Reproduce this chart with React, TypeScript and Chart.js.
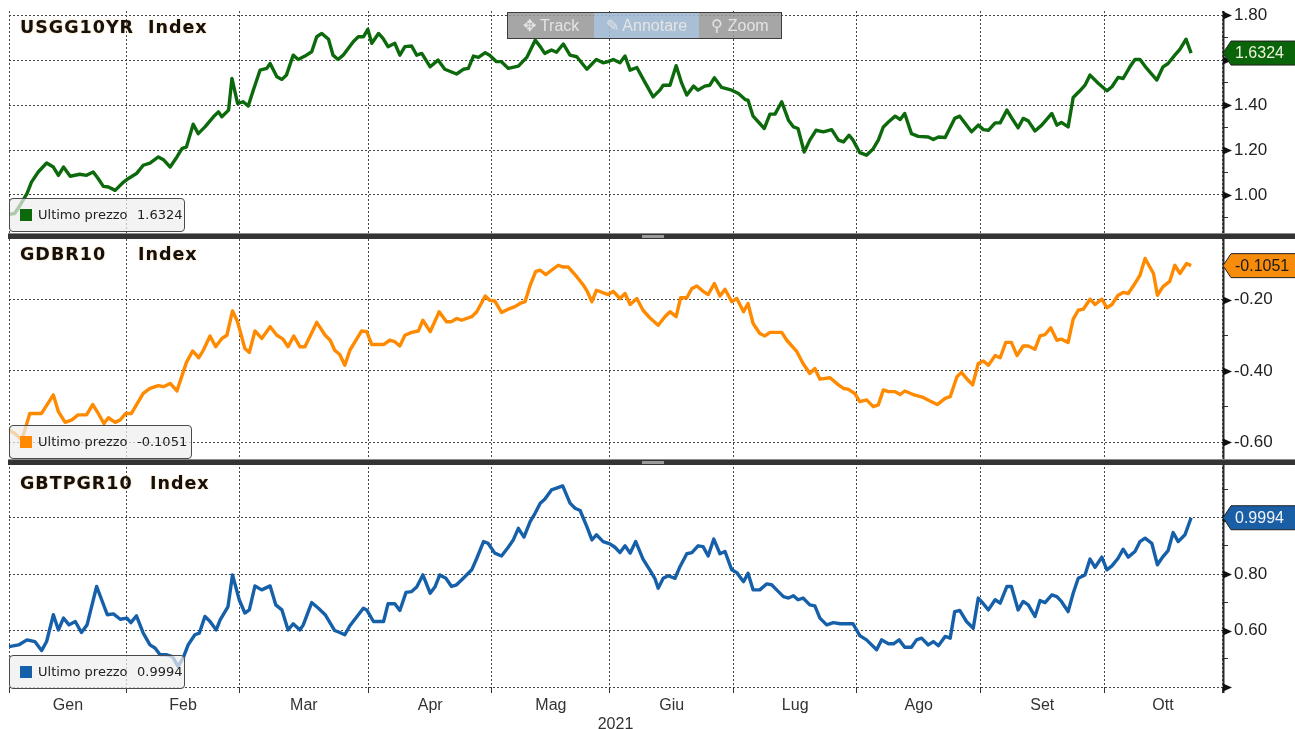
import React, { useEffect, useRef } from "react";
import { Chart, registerables } from "chart.js";

Chart.register(...registerables);

// ---- axis categories (weekday index counted from 1 Jan 2021) ----
const monthStarts = [0, 21, 41, 64, 86, 107, 129, 151, 173, 195, 216];
const monthLabels = ["Gen", "Feb", "Mar", "Apr", "Mag", "Giu", "Lug", "Ago", "Set", "Ott"];
const yearLabel = "2021";

// ---- USGG10YR Index ----
const usDay = [0, 1, 2, 3.2, 4.0, 5.2, 6.7, 7.9, 8.8, 9.7, 10.9, 12.6, 13.8, 15.0, 15.9, 16.8, 17.7, 18.9, 20.4, 21.2, 22.7, 23.9, 25.1, 26.6, 27.5, 28.7, 29.9, 30.8, 31.6, 32.8, 33.7, 34.9, 36.4, 37.3, 37.9, 39.1, 39.7, 40.7, 41.7, 42.6, 43.5, 44.7, 45.9, 46.5, 47.7, 48.6, 49.4, 50.6, 51.5, 52.7, 53.9, 54.8, 55.7, 56.9, 57.7, 58.6, 59.5, 61.3, 62.2, 63.1, 63.9, 64.6, 65.8, 66.6, 67.5, 68.7, 69.6, 70.5, 71.7, 72.6, 73.5, 75.0, 76.4, 77.6, 79.7, 80.9, 81.8, 82.7, 83.6, 84.8, 85.6, 86.8, 87.7, 88.9, 90.7, 92.2, 93.7, 94.6, 95.4, 96.6, 97.5, 98.7, 99.9, 101.1, 102.9, 104.6, 105.8, 106.7, 107.6, 108.8, 109.7, 110.6, 111.8, 113.2, 114.7, 115.9, 116.5, 117.7, 118.8, 119.8, 120.7, 121.9, 122.7, 123.9, 124.8, 125.6, 126.9, 128.7, 129.9, 131.1, 131.6, 132.5, 134.5, 135.5, 136.4, 137.6, 138.8, 139.7, 140.5, 141.6, 142.6, 143.7, 145.0, 146.5, 147.7, 148.6, 149.6, 150.3, 151.5, 152.7, 153.9, 154.8, 155.7, 156.6, 157.8, 158.7, 159.5, 160.7, 161.9, 163.7, 164.6, 165.5, 166.7, 168.4, 169.3, 171.4, 172.6, 173.5, 174.4, 175.6, 176.5, 177.7, 178.5, 179.7, 180.6, 181.5, 182.7, 183.9, 185.7, 186.6, 187.4, 188.6, 189.5, 190.7, 191.6, 192.5, 194.0, 195.5, 196.4, 197.5, 198.4, 199.6, 200.5, 201.4, 202.6, 204.4, 205.5, 206.4, 207.6, 208.5, 209.6, 210.5];
const usYield = [0.913, 0.917, 0.955, 1.005, 1.057, 1.102, 1.142, 1.124, 1.087, 1.124, 1.083, 1.092, 1.087, 1.102, 1.072, 1.038, 1.035, 1.020, 1.057, 1.072, 1.095, 1.132, 1.142, 1.169, 1.157, 1.124, 1.169, 1.206, 1.214, 1.315, 1.273, 1.303, 1.348, 1.370, 1.348, 1.378, 1.519, 1.408, 1.415, 1.396, 1.467, 1.556, 1.564, 1.586, 1.527, 1.515, 1.534, 1.623, 1.604, 1.619, 1.638, 1.705, 1.720, 1.694, 1.623, 1.604, 1.623, 1.683, 1.705, 1.705, 1.738, 1.676, 1.720, 1.698, 1.661, 1.676, 1.623, 1.661, 1.664, 1.623, 1.631, 1.571, 1.601, 1.560, 1.539, 1.560, 1.564, 1.619, 1.613, 1.634, 1.623, 1.594, 1.594, 1.564, 1.574, 1.613, 1.690, 1.661, 1.631, 1.646, 1.636, 1.673, 1.623, 1.616, 1.560, 1.604, 1.589, 1.594, 1.604, 1.589, 1.619, 1.556, 1.568, 1.504, 1.437, 1.467, 1.489, 1.489, 1.576, 1.497, 1.445, 1.485, 1.467, 1.485, 1.489, 1.522, 1.479, 1.467, 1.452, 1.425, 1.422, 1.351, 1.296, 1.360, 1.360, 1.415, 1.333, 1.303, 1.296, 1.191, 1.244, 1.288, 1.281, 1.291, 1.244, 1.236, 1.266, 1.244, 1.188, 1.177, 1.206, 1.244, 1.303, 1.325, 1.351, 1.336, 1.363, 1.273, 1.261, 1.258, 1.247, 1.258, 1.256, 1.341, 1.351, 1.281, 1.311, 1.291, 1.288, 1.321, 1.321, 1.378, 1.345, 1.299, 1.341, 1.330, 1.285, 1.311, 1.363, 1.311, 1.323, 1.303, 1.434, 1.464, 1.489, 1.534, 1.497, 1.464, 1.482, 1.524, 1.519, 1.571, 1.604, 1.604, 1.564, 1.512, 1.571, 1.586, 1.623, 1.649, 1.694, 1.6324];

// ---- GDBR10 Index ----
const deDay = [0, 1.0, 2.3, 3.7, 5.8, 7.9, 8.8, 10.0, 11.2, 12.3, 13.8, 14.9, 15.9, 16.9, 17.7, 18.9, 19.8, 20.8, 21.8, 23.9, 25.1, 26.6, 27.5, 28.7, 29.9, 31.6, 32.7, 33.8, 34.6, 35.8, 36.8, 37.9, 38.8, 39.8, 40.7, 42.0, 42.8, 43.8, 45.0, 46.5, 47.7, 48.8, 49.7, 50.7, 51.8, 52.7, 54.8, 56.3, 57.2, 58.0, 58.9, 59.8, 60.7, 61.9, 62.8, 63.7, 64.6, 66.7, 67.8, 68.7, 69.6, 70.5, 71.7, 72.9, 73.7, 75.0, 76.6, 77.9, 78.8, 79.7, 80.6, 82.4, 83.3, 84.8, 85.6, 86.5, 87.7, 88.9, 90.1, 91.0, 91.9, 92.8, 93.8, 94.6, 95.6, 96.6, 97.8, 98.7, 99.6, 101.1, 102.3, 103.0, 103.8, 104.6, 106.7, 107.6, 108.8, 109.7, 110.6, 111.8, 112.9, 114.1, 115.6, 116.8, 117.7, 118.8, 119.6, 120.7, 121.6, 122.5, 123.6, 124.5, 125.6, 126.6, 127.5, 128.7, 129.6, 130.8, 131.6, 132.5, 133.7, 134.6, 135.5, 137.6, 138.5, 140.3, 141.4, 142.6, 143.5, 144.4, 146.2, 147.7, 148.6, 149.4, 150.6, 151.5, 152.7, 153.9, 154.8, 155.7, 156.6, 157.8, 158.7, 159.5, 161.0, 162.8, 164.0, 165.3, 166.7, 167.6, 168.8, 169.6, 170.5, 171.6, 172.6, 173.5, 174.4, 175.6, 176.5, 177.5, 178.5, 179.5, 180.6, 181.5, 182.7, 183.6, 184.5, 185.5, 186.6, 187.4, 188.6, 189.5, 190.4, 191.3, 192.5, 193.4, 194.6, 195.5, 196.4, 197.5, 198.4, 199.3, 200.5, 201.4, 202.3, 203.8, 204.5, 205.5, 206.7, 207.6, 208.5, 209.7, 210.5];
const deYield = [-0.565, -0.575, -0.593, -0.519, -0.519, -0.467, -0.514, -0.544, -0.537, -0.523, -0.523, -0.494, -0.519, -0.547, -0.531, -0.544, -0.537, -0.519, -0.519, -0.463, -0.449, -0.441, -0.444, -0.435, -0.456, -0.376, -0.344, -0.363, -0.342, -0.302, -0.332, -0.309, -0.300, -0.232, -0.262, -0.337, -0.348, -0.288, -0.309, -0.276, -0.300, -0.311, -0.332, -0.302, -0.332, -0.332, -0.264, -0.300, -0.314, -0.342, -0.354, -0.384, -0.342, -0.311, -0.288, -0.290, -0.326, -0.326, -0.314, -0.318, -0.330, -0.300, -0.292, -0.288, -0.258, -0.290, -0.234, -0.262, -0.262, -0.253, -0.258, -0.248, -0.234, -0.190, -0.202, -0.204, -0.236, -0.227, -0.220, -0.211, -0.206, -0.160, -0.121, -0.118, -0.130, -0.118, -0.104, -0.109, -0.109, -0.136, -0.160, -0.178, -0.206, -0.174, -0.186, -0.177, -0.197, -0.183, -0.214, -0.197, -0.230, -0.251, -0.272, -0.248, -0.234, -0.248, -0.195, -0.195, -0.169, -0.162, -0.177, -0.186, -0.155, -0.190, -0.171, -0.206, -0.197, -0.234, -0.211, -0.267, -0.295, -0.302, -0.292, -0.292, -0.314, -0.346, -0.379, -0.407, -0.393, -0.423, -0.419, -0.439, -0.449, -0.451, -0.463, -0.486, -0.481, -0.500, -0.495, -0.453, -0.458, -0.458, -0.466, -0.456, -0.466, -0.474, -0.484, -0.494, -0.477, -0.472, -0.416, -0.404, -0.421, -0.439, -0.379, -0.372, -0.384, -0.357, -0.363, -0.320, -0.320, -0.357, -0.330, -0.330, -0.339, -0.302, -0.298, -0.279, -0.314, -0.311, -0.320, -0.255, -0.230, -0.227, -0.199, -0.214, -0.199, -0.223, -0.214, -0.188, -0.180, -0.183, -0.155, -0.132, -0.085, -0.127, -0.188, -0.164, -0.149, -0.104, -0.127, -0.099, -0.1051];

// ---- GBTPGR10 Index ----
const itDay = [0, 1.7, 3.2, 4.6, 5.8, 6.7, 7.9, 8.8, 9.7, 10.7, 11.8, 12.9, 13.9, 15.6, 16.5, 17.5, 18.6, 19.8, 21.0, 21.7, 22.7, 23.9, 25.1, 26.0, 26.9, 28.1, 29.1, 30.1, 31.0, 31.9, 33.1, 33.9, 34.9, 35.8, 36.9, 37.6, 39.0, 39.8, 41.0, 42.0, 42.8, 43.8, 45.0, 46.5, 47.5, 48.6, 49.7, 50.6, 51.8, 52.4, 53.9, 55.1, 56.3, 58.0, 58.9, 59.8, 60.7, 63.1, 63.7, 64.9, 66.7, 67.5, 68.7, 69.6, 70.7, 71.7, 72.6, 73.7, 75.0, 75.9, 76.7, 77.8, 78.8, 79.7, 80.9, 82.4, 83.3, 84.5, 85.3, 86.5, 87.7, 88.9, 89.8, 90.7, 91.7, 92.8, 93.7, 94.6, 95.4, 96.6, 97.5, 98.6, 99.9, 100.8, 101.7, 102.9, 103.8, 104.6, 105.8, 107.0, 107.9, 108.8, 109.7, 110.6, 111.6, 112.9, 114.1, 115.0, 115.6, 116.5, 117.4, 118.6, 119.5, 120.7, 121.6, 122.7, 123.6, 124.5, 125.5, 126.6, 127.5, 128.7, 129.6, 130.8, 131.6, 132.5, 133.7, 134.9, 135.8, 136.7, 137.9, 138.8, 139.7, 140.5, 141.4, 142.6, 143.5, 144.4, 145.6, 146.8, 148.0, 149.2, 150.3, 151.5, 152.7, 154.5, 155.4, 156.6, 157.5, 158.5, 159.5, 160.7, 161.6, 162.5, 163.7, 164.6, 165.5, 166.7, 167.6, 168.4, 169.3, 170.5, 171.7, 172.6, 173.5, 174.4, 175.6, 176.5, 177.7, 178.5, 179.7, 180.6, 181.5, 182.7, 183.6, 184.5, 185.7, 186.6, 187.4, 188.6, 189.5, 190.4, 191.6, 192.5, 193.4, 194.6, 195.5, 196.4, 197.5, 198.4, 199.3, 200.5, 201.4, 202.3, 203.5, 204.5, 205.5, 206.4, 207.3, 208.2, 209.4, 210.5];
const itYield = [0.543, 0.549, 0.567, 0.561, 0.529, 0.561, 0.656, 0.602, 0.644, 0.620, 0.632, 0.593, 0.620, 0.756, 0.709, 0.656, 0.659, 0.640, 0.644, 0.628, 0.652, 0.591, 0.549, 0.538, 0.514, 0.514, 0.508, 0.473, 0.502, 0.549, 0.585, 0.591, 0.650, 0.632, 0.602, 0.638, 0.685, 0.797, 0.709, 0.662, 0.673, 0.758, 0.744, 0.758, 0.691, 0.673, 0.602, 0.624, 0.602, 0.620, 0.699, 0.679, 0.656, 0.600, 0.593, 0.585, 0.617, 0.679, 0.673, 0.632, 0.632, 0.695, 0.695, 0.671, 0.735, 0.738, 0.754, 0.797, 0.732, 0.756, 0.797, 0.785, 0.756, 0.762, 0.785, 0.815, 0.856, 0.915, 0.909, 0.874, 0.864, 0.895, 0.921, 0.962, 0.931, 0.986, 1.016, 1.051, 1.065, 1.098, 1.104, 1.112, 1.051, 1.033, 1.025, 0.968, 0.921, 0.939, 0.915, 0.907, 0.895, 0.876, 0.900, 0.874, 0.915, 0.853, 0.815, 0.785, 0.750, 0.785, 0.794, 0.785, 0.827, 0.872, 0.876, 0.900, 0.897, 0.864, 0.924, 0.872, 0.880, 0.815, 0.805, 0.773, 0.803, 0.744, 0.744, 0.765, 0.762, 0.744, 0.720, 0.715, 0.723, 0.709, 0.715, 0.691, 0.687, 0.644, 0.620, 0.628, 0.624, 0.624, 0.624, 0.582, 0.567, 0.532, 0.567, 0.553, 0.553, 0.567, 0.541, 0.541, 0.567, 0.573, 0.549, 0.561, 0.546, 0.579, 0.573, 0.667, 0.671, 0.632, 0.608, 0.715, 0.695, 0.673, 0.709, 0.697, 0.756, 0.756, 0.673, 0.703, 0.691, 0.650, 0.706, 0.699, 0.726, 0.720, 0.703, 0.667, 0.732, 0.785, 0.797, 0.853, 0.824, 0.860, 0.815, 0.829, 0.856, 0.888, 0.860, 0.880, 0.915, 0.927, 0.909, 0.833, 0.862, 0.883, 0.947, 0.915, 0.939, 0.9994];

// ---- per-panel axis ticks ----
const usMajor = [1.0, 1.2, 1.4, 1.6, 1.8];
const usMinor = [0.9, 1.1, 1.3, 1.5, 1.7];
const deMajor = [-0.6, -0.4, -0.2];
const deMinor = [-0.5, -0.3, -0.1];
const itMajor = [0.4, 0.6, 0.8, 1.0];
const itMinor = [0.5, 0.7, 0.9, 1.1];

const W = 1295;
const H = 729;
const CANVAS_H = 733;

const panels = [
  { axis: "y1", ticker: "USGG10YR", day: usDay, val: usYield, min: 0.815, max: 1.82, major: usMajor, minor: usMinor, hide: [] as number[], color: "#0c6a0c", tagFill: "#0a650a", tagText: "#eef2dc", titleTop: 16, indexX: 148, legendTop: 198, legendW: 176 },
  { axis: "y2", ticker: "GDBR10", day: deDay, val: deYield, min: -0.654, max: -0.023, major: deMajor, minor: deMinor, hide: [] as number[], color: "#ff8a00", tagFill: "#f78b0c", tagText: "#1a1a1a", titleTop: 243, indexX: 138, legendTop: 425, legendW: 183 },
  { axis: "y3", ticker: "GBTPGR10", day: itDay, val: itYield, min: 0.4, max: 1.198, major: itMajor, minor: itMinor, hide: [0.4], color: "#1660aa", tagFill: "#1a5ea6", tagText: "#f2f4f8", titleTop: 472, indexX: 150, legendTop: 655, legendW: 176 },
];

const close = (a: number, b: number) => Math.abs(a - b) < 1e-6;
const mids = monthStarts.slice(0, -1).map((s, i) => (s + monthStarts[i + 1]) / 2);

const decor = {
  id: "bbgDecor",
  afterDraw(chart: any) {
    const ctx = chart.ctx;
    const area = chart.chartArea;
    ctx.save();
    ctx.fillStyle = "#2a2a2a";
    ctx.fillRect(area.right + 0.5, area.top, 2, area.bottom - area.top + 6);
    panels.forEach((p) => {
      const s = chart.scales[p.axis];
      p.major.forEach((v) => {
        if (v < s.min - 1e-9 || v > s.max + 1e-9) return;
        const y = Math.round(s.getPixelForValue(v)) + 0.5;
        ctx.beginPath();
        ctx.moveTo(area.right + 1, y - 4);
        ctx.lineTo(area.right + 10, y);
        ctx.lineTo(area.right + 1, y + 4);
        ctx.closePath();
        ctx.fillStyle = "#111";
        ctx.fill();
      });
    });
    [chart.scales.y1.bottom, chart.scales.y2.bottom].forEach((b: number) => {
      const yb = Math.round(b) - 3;
      ctx.fillStyle = "#343434";
      ctx.fillRect(8, yb, W - 8, 6);
      ctx.fillStyle = "#8c8c8c";
      ctx.fillRect(8, yb, W - 8, 1);
      ctx.fillStyle = "#9a9a9a";
      ctx.fillRect(642, yb + 2, 22, 3);
    });
    panels.forEach((p) => {
      const s = chart.scales[p.axis];
      const last = p.val[p.val.length - 1];
      const y = s.getPixelForValue(last);
      const tip = area.right + 1;
      ctx.beginPath();
      ctx.moveTo(tip, y);
      ctx.lineTo(tip + 8, y - 12);
      ctx.lineTo(W + 2, y - 12);
      ctx.lineTo(W + 2, y + 12);
      ctx.lineTo(tip + 8, y + 12);
      ctx.closePath();
      ctx.fillStyle = p.tagFill;
      ctx.fill();
      ctx.strokeStyle = "#222";
      ctx.lineWidth = 1;
      ctx.stroke();
      ctx.fillStyle = p.tagText;
      ctx.font = '16px "Liberation Sans"';
      ctx.textAlign = "left";
      ctx.textBaseline = "middle";
      ctx.fillText(last.toFixed(4), tip + 12, y + 1);
    });
    ctx.restore();
  },
};

function yAxis(p: any) {
  const ticks = [...p.major, ...p.minor].filter((v) => v >= p.min - 1e-9 && v <= p.max + 1e-9).sort((a, b) => a - b);
  return {
    type: "linear",
    position: "right",
    stack: "panels",
    stackWeight: 1,
    min: p.min,
    max: p.max,
    afterBuildTicks: (s: any) => {
      s.ticks = ticks.map((v) => ({ value: v }));
    },
    afterFit: (s: any) => {
      s.width = 73;
      s.paddingTop = 0;
      s.paddingBottom = 0;
    },
    border: { display: false, dash: [2, 2] },
    grid: {
      color: (c: any) => (c.tick && p.major.some((m: number) => close(m, c.tick.value)) ? "#454545" : "rgba(0,0,0,0)"),
      lineWidth: 1,
      drawTicks: true,
      tickLength: 6,
      tickColor: "#333",
      tickBorderDash: [],
    },
    ticks: {
      autoSkip: false,
      padding: 6,
      color: "#222",
      font: { family: "Liberation Sans", size: 17, lineHeight: 1 },
      callback: (v: number) =>
        p.major.some((m: number) => close(m, v)) && !p.hide.some((h: number) => close(h, v)) ? Number(v).toFixed(2) : "",
    },
  };
}

export default function App() {
  const ref = useRef<HTMLCanvasElement>(null);

  useEffect(() => {
    const canvas = ref.current;
    if (!canvas) return;
    const xTicks = [...monthStarts, ...mids].sort((a, b) => a - b);
    const scales: any = {
      x: {
        type: "linear",
        position: "bottom",
        min: 0,
        max: 216,
        afterBuildTicks: (s: any) => {
          s.ticks = xTicks.map((v) => ({ value: v }));
        },
        afterFit: (s: any) => {
          s.height = 46;
          s.paddingLeft = 0;
          s.paddingRight = 0;
        },
        border: { display: false, dash: [2, 2] },
        grid: {
          color: (c: any) => (c.tick && monthStarts.includes(c.tick.value) ? "#454545" : "rgba(0,0,0,0)"),
          tickColor: (c: any) => (c.tick && monthStarts.includes(c.tick.value) ? "#333" : "rgba(0,0,0,0)"),
          lineWidth: 1,
          tickLength: 6,
          tickBorderDash: [],
        },
        ticks: {
          autoSkip: false,
          maxRotation: 0,
          padding: 5,
          color: "#333",
          font: { family: "Liberation Sans", size: 16, lineHeight: 1 },
          callback: (v: number) => {
            const i = mids.findIndex((m) => close(m, v));
            return i >= 0 ? monthLabels[i] : "";
          },
        },
        title: {
          display: true,
          text: yearLabel,
          color: "#333",
          font: { family: "Liberation Sans", size: 16, lineHeight: 1 },
          padding: { top: 2, bottom: 0 },
        },
      },
    };
    panels.forEach((p) => {
      scales[p.axis] = yAxis(p);
    });

    const chart = new Chart(canvas, {
      type: "line",
      data: {
        datasets: panels.map((p) => ({
          label: p.ticker,
          data: p.day.map((d, i) => ({ x: d, y: p.val[i] })),
          xAxisID: "x",
          yAxisID: p.axis,
          borderColor: p.color,
          borderWidth: 3.4,
          pointRadius: 0,
          tension: 0,
          fill: false,
          borderJoinStyle: "round",
        })),
      },
      options: {
        responsive: false,
        animation: false,
        events: [],
        layout: { padding: { left: 9, right: 0, top: 11, bottom: 0 } },
        plugins: { legend: { display: false }, tooltip: { enabled: false } },
        scales,
      } as any,
      plugins: [decor],
    });
    return () => chart.destroy();
  }, []);

  const titleFont: React.CSSProperties = {
    position: "absolute",
    fontFamily: "DejaVu Sans",
    fontWeight: "bold",
    fontSize: 17.5,
    letterSpacing: 1,
    lineHeight: "22px",
    color: "#111",
    textShadow: "0 0 2px rgba(255,175,80,0.75)",
    whiteSpace: "nowrap",
  };

  return (
    <div style={{ position: "fixed", left: 0, top: 0, width: W, height: H, background: "#fff", overflow: "hidden" }}>
      <canvas ref={ref} width={W} height={CANVAS_H} style={{ position: "absolute", left: 0, top: 0, width: W, height: CANVAS_H }} />
      {panels.map((p) => (
        <React.Fragment key={p.axis}>
          <div style={{ ...titleFont, left: 20, top: p.titleTop }}>{p.ticker}</div>
          <div style={{ ...titleFont, left: p.indexX, top: p.titleTop }}>Index</div>
          <div
            style={{
              position: "absolute",
              left: 9,
              top: p.legendTop,
              width: p.legendW,
              height: 34,
              boxSizing: "border-box",
              border: "1px solid #4a4a4a",
              borderRadius: 4,
              background: "rgba(238,238,238,0.72)",
              fontFamily: "DejaVu Sans",
              fontSize: 13,
              color: "#222",
            }}
          >
            <div style={{ position: "absolute", left: 10, top: 10, width: 12, height: 12, background: p.color }} />
            <div style={{ position: "absolute", left: 28, top: 8, lineHeight: "16px", whiteSpace: "nowrap" }}>Ultimo prezzo</div>
            <div style={{ position: "absolute", left: 127, top: 8, lineHeight: "16px", whiteSpace: "nowrap" }}>
              {p.val[p.val.length - 1].toFixed(4)}
            </div>
          </div>
        </React.Fragment>
      ))}
      <div
        style={{
          position: "absolute",
          left: 507,
          top: 12,
          width: 275,
          height: 27,
          boxSizing: "border-box",
          border: "1px solid #3c3c3c",
          display: "flex",
          fontFamily: "Liberation Sans",
          fontSize: 16,
          color: "#e4e4e4",
          lineHeight: "25px",
        }}
      >
        <div style={{ width: 86, background: "rgba(150,150,150,0.85)", textAlign: "center" }}>✥ Track</div>
        <div style={{ width: 105, background: "rgba(160,184,210,0.9)", textAlign: "center" }}>✎ Annotare</div>
        <div style={{ flex: 1, background: "rgba(150,150,150,0.85)", textAlign: "center" }}>⚲ Zoom</div>
      </div>
    </div>
  );
}
